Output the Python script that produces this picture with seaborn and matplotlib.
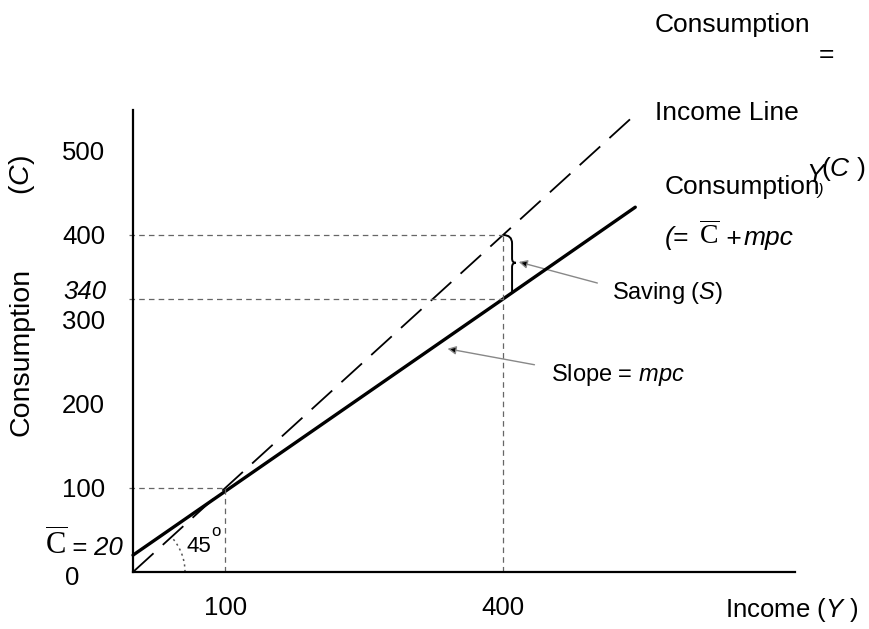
import numpy as np
import pandas as pd
import matplotlib
matplotlib.use("Agg")
import matplotlib.pyplot as plt
import seaborn as sns
from matplotlib.path import Path
from matplotlib.patches import PathPatch, FancyArrowPatch, Arc

# ---------------- data ----------------
income_x = [0, 540]          # 45-degree line (Y = C)
income_c = [0, 540]
cons_x = [0, 100, 400, 543]  # consumption function
cons_c = [20, 96, 324, 433]
guide_low = (100, 100)       # where the two lines meet
guide_high_x = 400
guide_high_top = 400         # income line at Y = 400
guide_high_bot = 324         # consumption at Y = 400 (labelled 340)
ytick_vals = [100, 200, 300, 400, 500]
ytick_labels = ["100", "200", "300", "400", "500"]
xtick_vals = [100, 400]
xtick_labels = ["100", "400"]

# ---------------- style ----------------
sns.set_theme(style="white")
plt.rcParams['font.family'] = ['Liberation Sans', 'DejaVu Sans']
plt.rcParams['mathtext.fontset'] = 'custom'
plt.rcParams['mathtext.rm'] = 'Liberation Serif'
plt.rcParams['mathtext.it'] = 'Liberation Sans:italic'
plt.rcParams['lines.scale_dashes'] = False
plt.rcParams['text.color'] = 'black'

W, H = 870, 629
fig = plt.figure(figsize=(W / 100, H / 100), dpi=100)
fig.patch.set_facecolor("white")
ax = fig.add_axes([133 / W, 57 / H, 662 / W, 462 / H])
ax.set_facecolor("white")
ax.set_xlim(0, 662 / 0.925)
ax.set_ylim(0, 462 / 0.8425)

for s in ["top", "right"]:
    ax.spines[s].set_visible(False)
for s in ["left", "bottom"]:
    ax.spines[s].set_color("black")
    ax.spines[s].set_linewidth(1.6)

FS = 19
TFS = 18.5

def P(x, y):
    return (x / W, 1 - y / H)

# lines
df_inc = pd.DataFrame({"Y": income_x, "C": income_c})
df_con = pd.DataFrame({"Y": cons_x, "C": cons_c})
sns.lineplot(data=df_inc, x="Y", y="C", ax=ax, color="black", lw=1.3,
             linestyle=(0, (20, 9)), clip_on=False)
sns.lineplot(data=df_con, x="Y", y="C", ax=ax, color="black", lw=2.4,
             clip_on=False)
ax.set_xlabel("")
ax.set_ylabel("")

# dashed guides
gkw = dict(color="#666666", lw=0.9, linestyle=(0, (4, 3)), clip_on=False)
ax.hlines(guide_low[1], -4, guide_low[0], **gkw)
ax.vlines(guide_low[0], 0, guide_low[1], **gkw)
ax.hlines(guide_high_top, -4, guide_high_x, **gkw)
ax.hlines(guide_high_bot, -4, guide_high_x, **gkw)
ax.vlines(guide_high_x, 0, guide_high_top, **gkw)

# 45 degree arc
r = 52
ax.add_patch(Arc((0, 0), 2 * r / 0.925, 2 * r / 0.8425, theta1=0, theta2=45,
                 color="#555555", lw=1.1, linestyle=(0, (1.5, 2.5))))

# ticks
ax.set_yticks(ytick_vals)
ax.set_yticklabels(ytick_labels, fontsize=TFS, color="black")
ax.set_xticks(xtick_vals)
ax.set_xticklabels(xtick_labels, fontsize=TFS, color="black")
ax.tick_params(axis="y", length=0, pad=20)
ax.tick_params(axis="x", length=0, pad=17)

# brace for saving
x0 = guide_high_x
w = 14
ytop, ybot = guide_high_top, guide_high_bot + 6
ymid = (ytop + ybot) / 2 + 2
xv = x0 + 0.7 * w
verts = [(x0, ytop), (xv, ytop), (xv, ytop - 10),
         (xv, ymid + 5),
         (xv, ymid), (x0 + w, ymid),
         (xv, ymid), (xv, ymid - 5),
         (xv, ybot)]
codes = [Path.MOVETO, Path.CURVE3, Path.CURVE3, Path.LINETO,
         Path.CURVE3, Path.CURVE3, Path.CURVE3, Path.CURVE3, Path.LINETO]
ax.add_patch(PathPatch(Path(verts, codes), fill=False, color="black", lw=1.4,
                       clip_on=False))

# arrows
def arrow(p_from, p_to):
    ax.add_patch(FancyArrowPatch(p_from, p_to,
                                 arrowstyle="-|>,head_length=5,head_width=2.5",
                                 ec="#888888", fc="black", lw=1.0, clip_on=False,
                                 shrinkA=0, shrinkB=0))

arrow((502, 343), (417, 368))
arrow((434, 246), (340, 265))

# ---------------- texts ----------------
fig.text(*P(655, 25), "Consumption", fontsize=FS, va="center", ha="left")
fig.text(*P(826, 55), "=", fontsize=FS, va="center", ha="center")
fig.text(*P(655, 113), "Income Line", fontsize=FS, va="center", ha="left")
fig.text(*P(665, 187), "Consumption", fontsize=FS, va="center", ha="left")
fig.text(*P(815, 175), "Y", fontsize=FS, va="center", ha="center", style="italic")
fig.text(*P(820, 190), ")", fontsize=12, va="center", ha="center", style="italic")
fig.text(*P(821, 169), r"($\mathit{C}$ )", fontsize=FS, va="center", ha="left")

fig.text(*P(665, 238), "(=", fontsize=FS, va="center", ha="left", style="italic")
fig.text(*P(699, 236), r"$\overline{\mathrm{C}}$", fontsize=FS + 1, va="center", ha="left")
fig.text(*P(725, 239), "+", fontsize=FS, va="center", ha="left", style="italic")
fig.text(*P(744, 238), "mpc", fontsize=FS, va="center", ha="left", style="italic")

fig.text(*P(612, 293), r"Saving ($\mathit{S}$)", fontsize=17, va="center", ha="left")
fig.text(*P(551, 375), r"Slope = $\mathit{mpc}$", fontsize=17, va="center", ha="left")

fig.text(*P(85, 292), "340", fontsize=TFS, va="center", ha="center", style="italic")
fig.text(*P(72, 578), "0", fontsize=TFS, va="center", ha="center")
fig.text(*P(45, 545), r"$\overline{\mathrm{C}}$", fontsize=FS + 3, va="center", ha="left")
fig.text(*P(72, 548), "= 20", fontsize=TFS, va="center", ha="left", style="italic")

fig.text(*P(187, 546), "45", fontsize=16, va="center", ha="left")
fig.text(*P(216, 531), "o", fontsize=12, va="center", ha="center")

fig.text(*P(725, 610), r"Income ($\mathit{Y}$ )", fontsize=TFS, va="center", ha="left")

fig.text(*P(22, 352), "Consumption", fontsize=20.5, va="center", ha="center", rotation=90)
fig.text(*P(22, 175), r"($\mathit{C}$)", fontsize=20.5, va="center", ha="center", rotation=90)

fig.savefig("out.png", dpi=100, facecolor="white")
